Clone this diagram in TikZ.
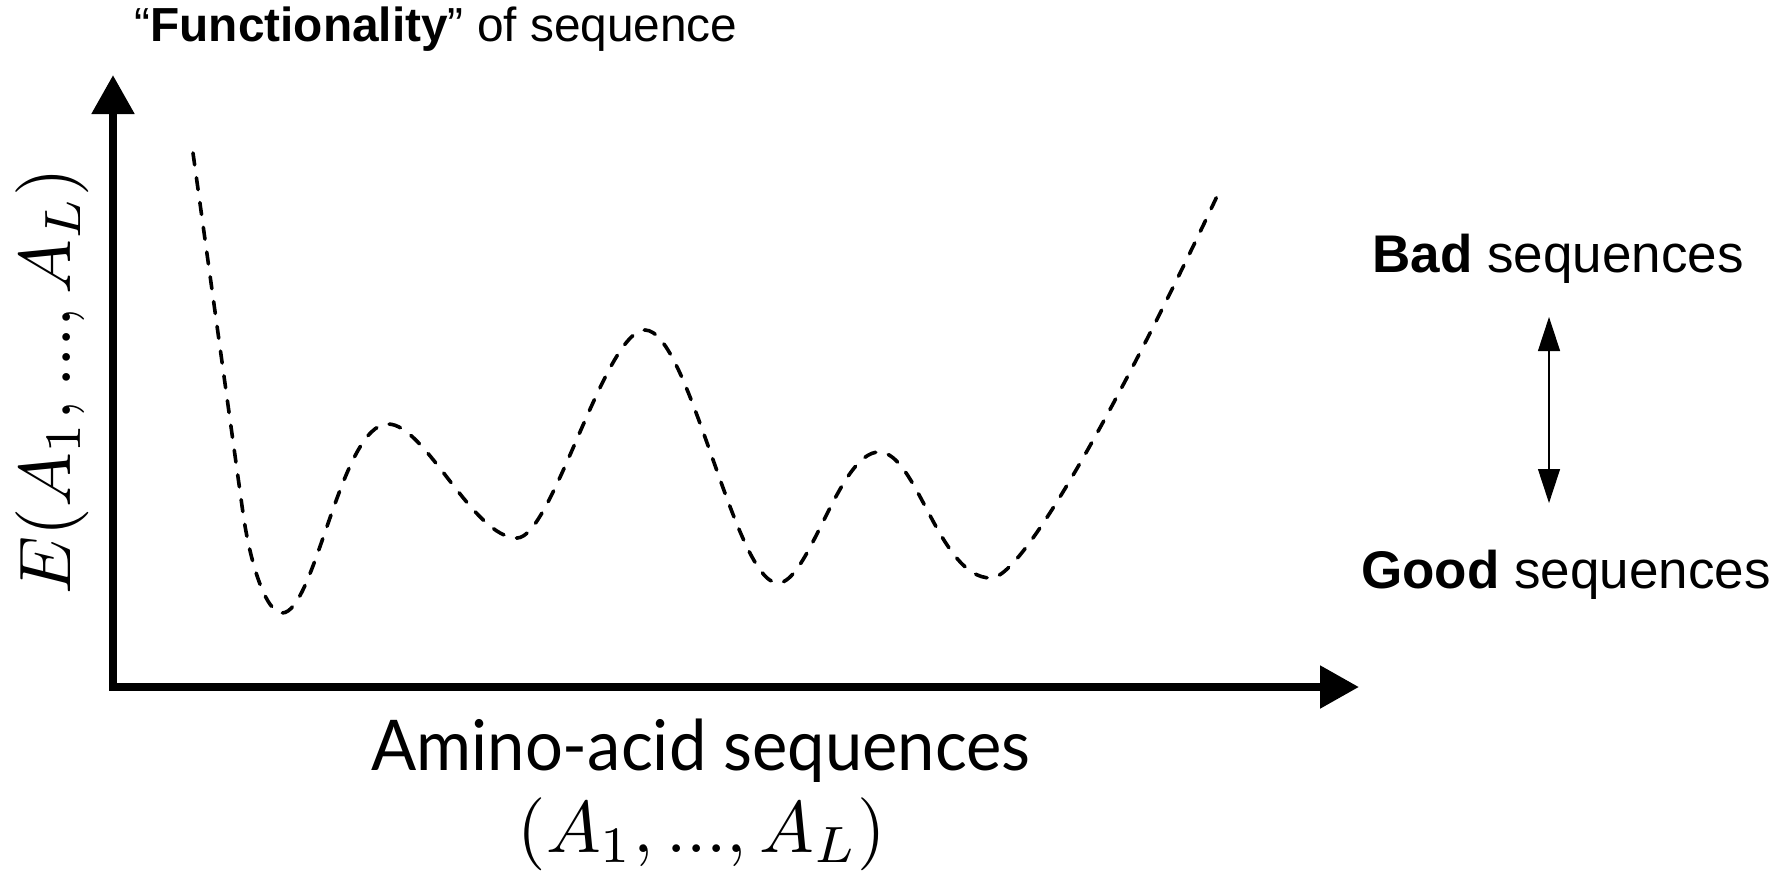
\documentclass[tikz,border=0pt]{standalone}
\usepackage{fontspec}
\setmainfont{Liberation Sans}
\newfontfamily\gillfont{Lato}
\usetikzlibrary{arrows.meta}
\tikzset{
  axis/.style={line width=4.2pt, -{Triangle[length=19.5pt,width=20.5pt]}},
  curve/.style={line width=1.8pt, line cap=round, dash pattern=on 6pt off 6.5pt},
  dblarrow/.style={line width=0.6pt, {Triangle[length=17pt,width=11pt]}-{Triangle[length=17pt,width=11pt]}},
  lab/.style={inner sep=0pt, anchor=base},
}
\begin{document}
\begin{tikzpicture}[x=0.5pt,y=-0.5pt]
\useasboundingbox (0,0) rectangle (1780,875);
% axes
\coordinate (origin) at (113,687);
\coordinate (ytip) at (113,75);
\coordinate (xtip) at (1359,687);
\draw[axis] (origin) -- (ytip);
\draw[axis] (origin) -- (xtip);
\fill (origin) ++(-2.1pt,-2.1pt) rectangle ++(4.2pt,4.2pt);
% energy landscape
\draw[curve] (193,153) -- (243,513)
  .. controls (250,563) and (266,613) .. (282,613)
  .. controls (315,613) and (341,424) .. (388,424)
  .. controls (425,424) and (473,538) .. (517,538)
  .. controls (552,538) and (605,330) .. (645,330)
  .. controls (689,330) and (735,583) .. (778,583)
  .. controls (809,583) and (839,452) .. (879,452)
  .. controls (917,452) and (939,578) .. (991,578)
  .. controls (1030,578) and (1160,318) .. (1219,192);
% labels
\node[lab, font=\fontsize{23.9}{28}\selectfont] (title) at (436,41) {“\textbf{Functionality}” of sequence};
\node[lab, rotate=90] (ylab) at (70,381) {\scalebox{3.65}{$E(A_1, ..., A_L)$}};
\node[lab, font=\gillfont\fontsize{35}{40}\selectfont] (xlab) at (701,770) {\scalebox{0.955}[1]{Amino-acid sequences}};
\node[lab] (xmath) at (702,852) {\scalebox{3.65}{$(A_1, ..., A_L)$}};
\node[lab, font=\fontsize{26.5}{30}\selectfont] (bad) at (1558,272) {\textbf{Bad} sequences};
\node[lab, font=\fontsize{26.5}{30}\selectfont] (good) at (1566,588) {\textbf{Good} sequences};
\coordinate (hi) at (1549,317);
\coordinate (lo) at (1549,503);
\draw[dblarrow] (lo) -- (hi);
\end{tikzpicture}
\end{document}
